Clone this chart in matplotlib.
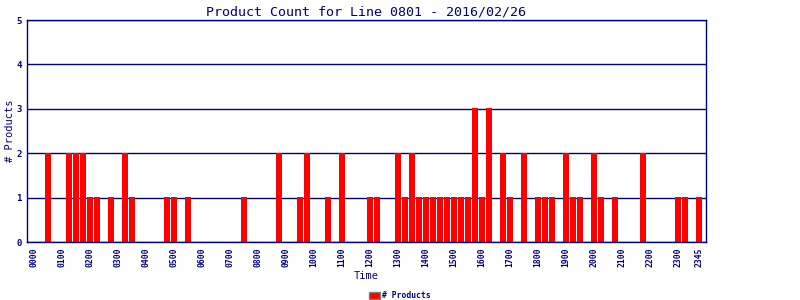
import matplotlib
matplotlib.use("Agg")
import matplotlib.pyplot as plt
import numpy as np

# 15-minute slots, 0000 .. 2345
slot_labels = ["%02d%02d" % (h, m) for h in range(24) for m in (0, 15, 30, 45)]

# product count per slot (slot index -> count)
counts = {
    2: 2, 5: 2, 6: 2, 7: 2, 8: 1, 9: 1, 11: 1, 13: 2, 14: 1,
    19: 1, 20: 1, 22: 1, 30: 1,
    35: 2, 38: 1, 39: 2, 42: 1, 44: 2, 48: 1, 49: 1,
    52: 2, 53: 1, 54: 2, 55: 1, 56: 1, 57: 1, 58: 1, 59: 1, 60: 1,
    61: 1, 62: 1, 63: 3, 64: 1, 65: 3,
    67: 2, 68: 1, 70: 2, 72: 1, 73: 1, 74: 1, 76: 2, 77: 1, 78: 1,
    80: 2, 81: 1, 83: 1, 87: 2, 92: 1, 93: 1, 95: 1,
}
values = [counts.get(i, 0) for i in range(len(slot_labels))]

shown_ticks = [i for i in range(0, 96, 4)] + [95]

NAVY = "#000080"
MONO = "DejaVu Sans Mono"

fig = plt.figure(figsize=(8, 3), dpi=100)
# 679 px wide plot area -> 97 slots of exactly 7 px
ax = fig.add_axes([0.03375, 0.1933, 0.84875, 0.74])

x = np.arange(len(slot_labels))
bars = ax.bar(x, values, width=0.85, color="#ff0000", linewidth=0,
              antialiased=False, label="# Products", zorder=2.2)
for b in bars:
    b.set_snap(False)

ax.set_xlim(-1.0, 96.0)
ax.set_ylim(0, 5)
ax.set_yticks(range(6))
ax.yaxis.grid(True, color=NAVY, linewidth=1.0, zorder=1)
ax.set_xticks(shown_ticks)
ax.set_xticklabels([slot_labels[i] for i in shown_ticks], rotation=90,
                   family=MONO, fontsize=5.8, fontweight="bold", color=NAVY)
for lab in ax.get_yticklabels():
    lab.set_family(MONO)
    lab.set_fontsize(6.5)
    lab.set_fontweight("bold")
    lab.set_color(NAVY)
ax.tick_params(axis="both", length=0, pad=4)
for s in ax.spines.values():
    s.set_color(NAVY)
    s.set_linewidth(1.0)
    s.set_zorder(3)

ax.set_title("Product Count for Line 0801 - 2016/02/26", family=MONO,
             fontsize=9.6, color=NAVY, pad=3)
ax.set_ylabel("# Products", family=MONO, fontsize=7.5, color=NAVY, labelpad=1)
ax.set_xlabel("Time", family=MONO, fontsize=7.5, color=NAVY, labelpad=3)

leg = fig.legend(handles=[plt.Rectangle((0, 0), 1, 1, facecolor="#ff0000",
                                        edgecolor="#808080", linewidth=1)],
                 labels=["# Products"], loc="lower center",
                 bbox_to_anchor=(0.5, -0.025), frameon=False,
                 prop={"family": MONO, "size": 5.8, "weight": "bold"},
                 handlelength=1.3, handleheight=0.9, handletextpad=0.3)
for t in leg.get_texts():
    t.set_color(NAVY)

fig.savefig("out.png", dpi=100)
plt.close(fig)
